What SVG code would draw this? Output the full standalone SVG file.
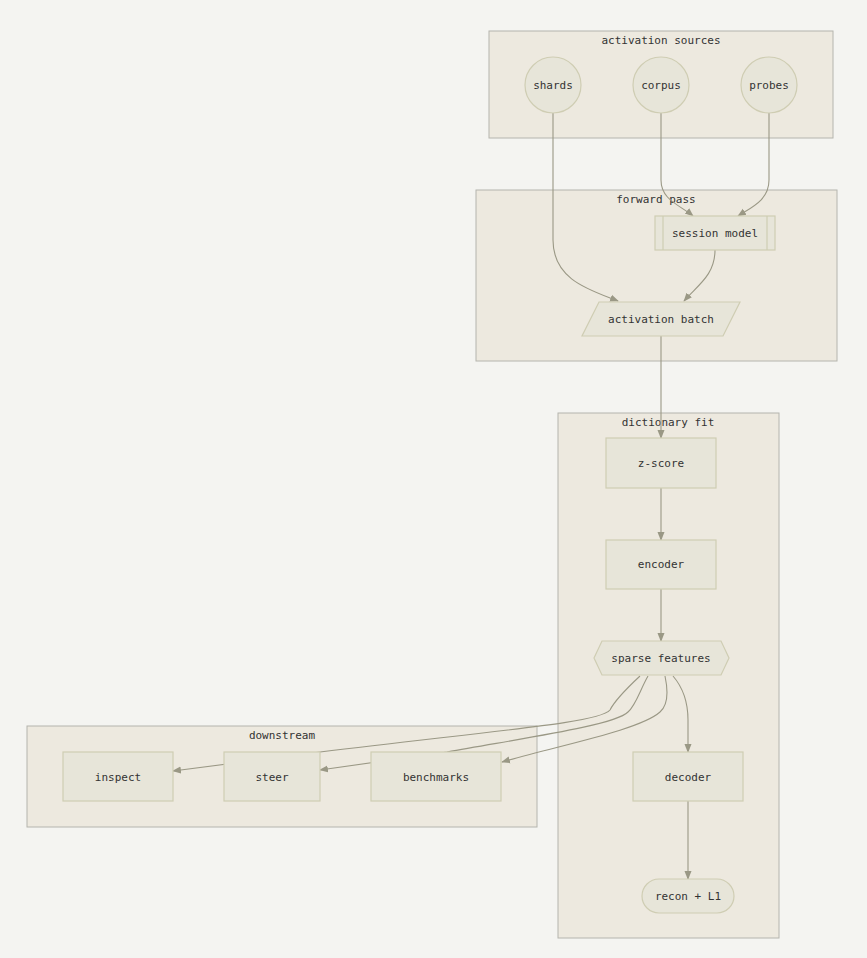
<svg xmlns="http://www.w3.org/2000/svg" width="867" height="958" viewBox="0 0 867 958">
<style>
.cl{fill:#ede9df;stroke:#b4b4ae;stroke-width:1}
.n{fill:#e7e5d9;stroke:#cfcdb3;stroke-width:1.2}
text{font-family:"DejaVu Sans Mono",monospace;font-size:11px;fill:#333;text-anchor:middle;dominant-baseline:central}
.e{fill:none;stroke:#9a9885;stroke-width:1.1}
</style>
<defs><marker id="a" viewBox="0 0 10 10" refX="9" refY="5" markerWidth="8" markerHeight="8" orient="auto"><path d="M0,1L10,5L0,9z" fill="#9a9885"/></marker></defs>
<rect width="867" height="958" fill="#f4f4f1"/>
<g id="c-sources"><rect class="cl" x="489" y="31" width="344" height="107"/><text x="661" y="40">activation sources</text></g>
<g id="c-forward"><rect class="cl" x="476" y="190" width="361" height="171"/><text x="656" y="199">forward pass</text></g>
<g id="c-dict"><rect class="cl" x="558" y="413" width="221" height="525"/><text x="668" y="422">dictionary fit</text></g>
<g id="c-down"><rect class="cl" x="27" y="726" width="510" height="101"/><text x="282" y="735">downstream</text></g>
<g id="connectors">
<path class="e" marker-end="url(#a)" d="M553,113 L553,240 C553,280 590,290 618,301"/>
<path class="e" marker-end="url(#a)" d="M661,113 L661,180 C661,200 680,205 693,216"/>
<path class="e" marker-end="url(#a)" d="M769,113 L769,180 C769,200 752,207 738,216"/>
<path class="e" marker-end="url(#a)" d="M715,250 C715,275 698,285 684,301"/>
<path class="e" marker-end="url(#a)" d="M661,336 L661,438"/>
<path class="e" marker-end="url(#a)" d="M661,488 L661,540"/>
<path class="e" marker-end="url(#a)" d="M661,589 L661,641"/>
<path class="e" marker-end="url(#a)" d="M640,676 C625,690 615,700 610,710 C600,722 520,728 320,752 L173,771"/>
<path class="e" marker-end="url(#a)" d="M648,676 C640,690 636,705 628,712 C615,725 530,737 447,752 L320,770"/>
<path class="e" marker-end="url(#a)" d="M665,676 C668,690 668,705 660,712 C640,730 560,745 502,762"/>
<path class="e" marker-end="url(#a)" d="M673,676 C685,690 688,705 688,720 L688,752"/>
<path class="e" marker-end="url(#a)" d="M688,801 L688,879"/>
</g>
<g id="shards"><circle class="n" cx="553" cy="85" r="28"/><text x="553" y="85">shards</text></g>
<g id="corpus"><circle class="n" cx="661" cy="85" r="28"/><text x="661" y="85">corpus</text></g>
<g id="probes"><circle class="n" cx="769" cy="85" r="28"/><text x="769" y="85">probes</text></g>
<g id="session-model"><rect class="n" x="655" y="216" width="120" height="34"/><line class="n" x1="663" y1="216" x2="663" y2="250"/><line class="n" x1="767" y1="216" x2="767" y2="250"/><text x="715" y="233">session model</text></g>
<g id="activation-batch"><polygon class="n" points="599,302 740,302 723,336 582,336"/><text x="661" y="319">activation batch</text></g>
<g id="z-score"><rect class="n" x="606" y="438" width="110" height="50"/><text x="661" y="463">z-score</text></g>
<g id="encoder"><rect class="n" x="606" y="540" width="110" height="49"/><text x="661" y="564">encoder</text></g>
<g id="sparse-features"><polygon class="n" points="602,641 721,641 729,658 721,675 602,675 594,658"/><text x="661" y="658">sparse features</text></g>
<g id="decoder"><rect class="n" x="633" y="752" width="110" height="49"/><text x="688" y="777">decoder</text></g>
<g id="recon"><rect class="n" x="642" y="879" width="92" height="34" rx="17"/><text x="688" y="896">recon + L1</text></g>
<g id="inspect"><rect class="n" x="63" y="752" width="110" height="49"/><text x="118" y="777">inspect</text></g>
<g id="steer"><rect class="n" x="224" y="752" width="96" height="49"/><text x="272" y="777">steer</text></g>
<g id="benchmarks"><rect class="n" x="371" y="752" width="130" height="49"/><text x="436" y="777">benchmarks</text></g>
</svg>
